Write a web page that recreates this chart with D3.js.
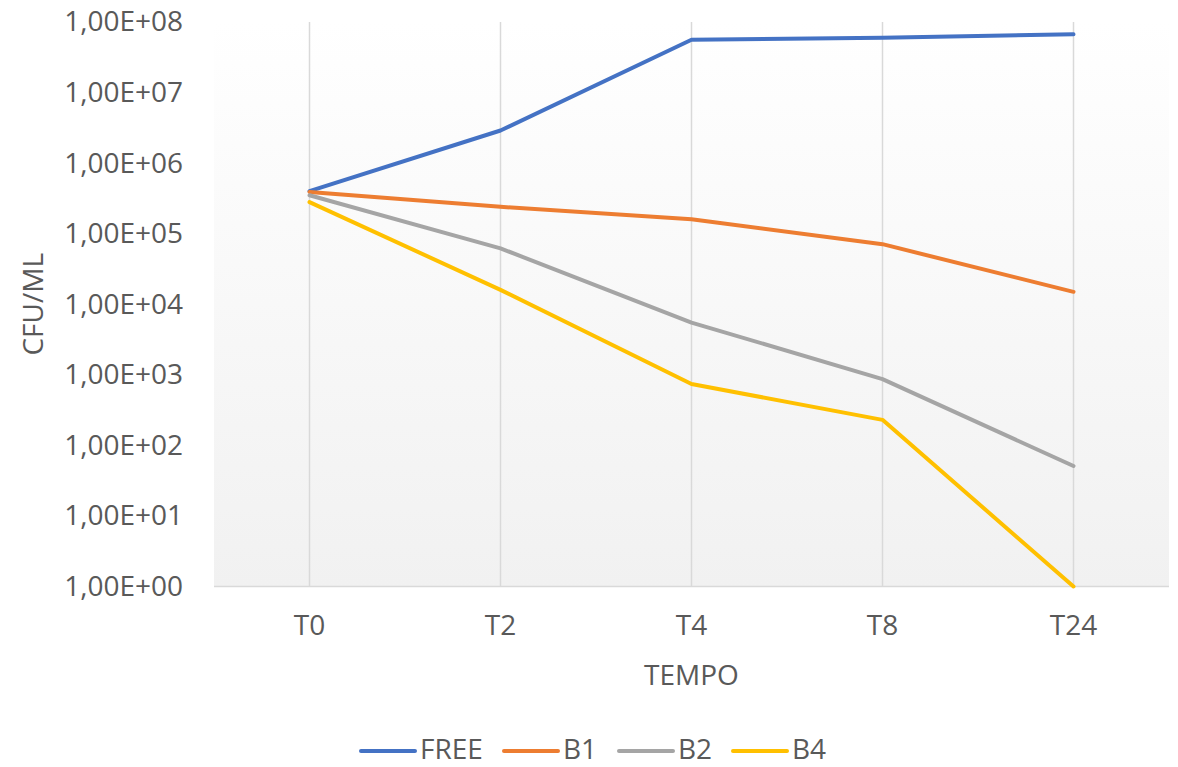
<!DOCTYPE html>
<html>
<head>
<meta charset="utf-8">
<script src="https://cdn.jsdelivr.net/npm/d3@7"></script>
<style>
  html, body { margin: 0; padding: 0; background: #ffffff; }
  svg { display: block; }
  text { font-family: "Open Sans", "Noto Sans", sans-serif; fill: #595959; }
</style>
</head>
<body>
<svg id="chart" width="1178" height="767"></svg>
<script>
const categories = ["T0", "T2", "T4", "T8", "T24"];
const seriesNames = ["FREE", "B1", "B2", "B4"];
const seriesColors = ["#4472C4", "#ED7D31", "#A5A5A5", "#FFC000"];
const freeValues = [4.0e5, 2.9e6, 5.6e7, 6.0e7, 6.7e7];
const b1Values = [3.9e5, 2.4e5, 1.6e5, 7.1e4, 1.5e4];
const b2Values = [3.5e5, 6.2e4, 5.5e3, 8.7e2, 51];
const b4Values = [2.8e5, 1.6e4, 7.4e2, 2.3e2, 1];
const yTickValues = [1e0, 1e1, 1e2, 1e3, 1e4, 1e5, 1e6, 1e7, 1e8];
const xTitle = "TEMPO";
const yTitle = "CFU/ML";

const allSeries = [freeValues, b1Values, b2Values, b4Values].map((vals, i) => ({
  name: seriesNames[i], color: seriesColors[i], values: vals
}));

const FS = 28;
const svg = d3.select("#chart");
const plot = { left: 214, right: 1169, top: 22, bottom: 586.5 };

const x = d3.scaleBand().domain(categories).range([plot.left, plot.right]);
const cx = c => x(c) + x.bandwidth() / 2;
const y = d3.scaleLog().domain([1, 1e8]).range([plot.bottom, plot.top]);

// background gradient
const defs = svg.append("defs");
const grad = defs.append("linearGradient").attr("id", "bg").attr("x1", 0).attr("y1", 0).attr("x2", 0).attr("y2", 1);
grad.append("stop").attr("offset", "0%").attr("stop-color", "#ffffff");
grad.append("stop").attr("offset", "100%").attr("stop-color", "#f1f1f1");
svg.append("rect")
  .attr("x", plot.left).attr("y", plot.top)
  .attr("width", plot.right - plot.left).attr("height", plot.bottom - plot.top)
  .attr("fill", "url(#bg)");

// vertical gridlines
svg.append("g").selectAll("line").data(categories).join("line")
  .attr("x1", d => cx(d)).attr("x2", d => cx(d))
  .attr("y1", plot.top).attr("y2", plot.bottom)
  .attr("stroke", "#d9d9d9").attr("stroke-width", 1.5);

// bottom axis line
svg.append("line")
  .attr("x1", plot.left).attr("x2", plot.right)
  .attr("y1", plot.bottom).attr("y2", plot.bottom)
  .attr("stroke", "#d9d9d9").attr("stroke-width", 1.5);

// y axis labels
const fmt = v => "1,00E+" + String(Math.round(Math.log10(v))).padStart(2, "0");
const yAxis = d3.axisLeft(y).tickValues(yTickValues).tickFormat(fmt).tickSize(0).tickPadding(31);
const yg = svg.append("g").attr("transform", `translate(${plot.left},0)`).call(yAxis);
yg.select(".domain").remove();
yg.selectAll("text").attr("font-size", FS).attr("fill", "#595959")
  .style("font-family", '"Open Sans", "Noto Sans", sans-serif');

// x axis labels
const xAxis = d3.axisBottom(x).tickSize(0).tickPadding(29);
const xg = svg.append("g").attr("transform", `translate(0,${plot.bottom})`).call(xAxis);
xg.select(".domain").remove();
xg.selectAll("text").attr("font-size", FS).attr("fill", "#595959")
  .style("font-family", '"Open Sans", "Noto Sans", sans-serif');

// axis titles
svg.append("text").attr("x", (plot.left + plot.right) / 2).attr("y", 685)
  .attr("text-anchor", "middle").attr("font-size", FS).text(xTitle);
svg.append("text")
  .attr("transform", `translate(43,${(plot.top + plot.bottom) / 2}) rotate(-90)`)
  .attr("text-anchor", "middle").attr("font-size", FS).text(yTitle);

// lines
const line = d3.line().x((d, i) => cx(categories[i])).y(d => y(d));
svg.append("g").selectAll("path").data(allSeries).join("path")
  .attr("d", d => line(d.values))
  .attr("fill", "none")
  .attr("stroke", d => d.color)
  .attr("stroke-width", 4)
  .attr("stroke-linecap", "round")
  .attr("stroke-linejoin", "round");

// legend
const legendX = [361, 504, 619, 733];
const lg = svg.append("g").selectAll("g").data(allSeries).join("g")
  .attr("transform", (d, i) => `translate(${legendX[i]},751)`);
lg.append("line").attr("x1", 0).attr("x2", 54).attr("y1", 0).attr("y2", 0)
  .attr("stroke", d => d.color).attr("stroke-width", 4).attr("stroke-linecap", "round");
lg.append("text").attr("x", 59).attr("y", 8).attr("font-size", FS).text(d => d.name);
</script>
</body>
</html>
